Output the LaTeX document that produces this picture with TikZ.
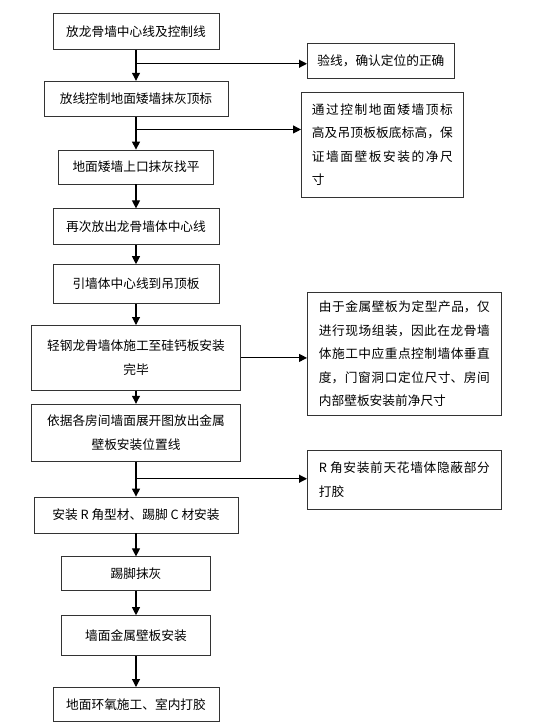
\documentclass[tikz,border=0pt]{standalone}
\usepackage{fontspec}
\newfontfamily\cjk{Noto Sans CJK SC}
\usepackage{tikz}
\usetikzlibrary{arrows.meta, positioning, calc}
\XeTeXlinebreaklocale "zh"
\XeTeXlinebreakskip=0pt plus 3pt

\begin{document}
\begin{tikzpicture}[x=1pt, y=1pt,
    stepbox/.style={rectangle, draw=black!80, line width=0.8pt, inner sep=2pt, align=center, font=\cjk\fontsize{12.7}{23.5}\selectfont},
    notebox/.style={stepbox, anchor=north west},
    flow/.style={-{Triangle[length=8pt, width=8pt]}, line width=1.1pt}]
    \useasboundingbox (0,0) rectangle (556,-726);

    % Main steps
    \node[stepbox, minimum width=166pt, minimum height=36pt, anchor=north] (s1) at (136,-13) {放龙骨墙中心线及控制线};
    \node[stepbox, minimum width=184pt, minimum height=35pt, below=31pt of s1] (s2) {放线控制地面矮墙抹灰顶标};
    \node[stepbox, minimum width=155pt, minimum height=34pt, below=33pt of s2] (s3) {地面矮墙上口抹灰找平};
    \node[stepbox, minimum width=166pt, minimum height=36pt, below=24pt of s3] (s4) {再次放出龙骨墙体中心线};
    \node[stepbox, minimum width=166pt, minimum height=39pt, below=19pt of s4] (s5) {引墙体中心线到吊顶板};
    \node[stepbox, minimum width=209pt, minimum height=65pt, below=21pt of s5] (s6) {轻钢龙骨墙体施工至硅钙板安装\\完毕};
    \node[stepbox, minimum width=209pt, minimum height=57pt, below=13pt of s6] (s7) {依据各房间墙面展开图放出金属\\壁板安装位置线};
    \node[stepbox, minimum width=204pt, minimum height=36pt, below=35pt of s7] (s8) {安装 R 角型材、踢脚 C 材安装};
    \node[stepbox, minimum width=149pt, minimum height=34pt, below=23pt of s8] (s9) {踢脚抹灰};
    \node[stepbox, minimum width=149pt, minimum height=40pt, below=24pt of s9] (s10) {墙面金属壁板安装};
    \node[stepbox, minimum width=166pt, minimum height=34pt, below=31pt of s10] (s11) {地面环氧施工、室内打胶};

    % Side notes
    \node[notebox, minimum width=147pt, minimum height=35pt] (n1) at (307,-43) {验线，确认定位的正确};
    \node[notebox, align=justify, text width=141pt, minimum width=162pt, minimum height=105pt] (n2) at (301,-92) {通过控制地面矮墙顶标\linebreak 高及吊顶板板底标高，保\linebreak 证墙面壁板安装的净尺\linebreak 寸};
    \node[notebox, align=justify, text width=171pt, minimum width=194pt, minimum height=123pt] (n3) at (307,-292) {由于金属壁板为定型产品，仅\linebreak 进行现场组装，因此在龙骨墙\linebreak 体施工中应重点控制墙体垂直\linebreak 度，门窗洞口定位尺寸、房间\linebreak 内部壁板安装前净尺寸};
    \node[notebox, align=justify, text width=171pt, minimum width=194pt, minimum height=59pt] (n4) at (307,-450) {R 角安装前天花墙体隐蔽部分\linebreak 打胶};

    % Main flow
    \foreach \a/\b in {s1/s2, s2/s3, s3/s4, s4/s5, s5/s6, s6/s7, s7/s8, s8/s9, s9/s10, s10/s11}
        \draw[flow] (\a) -- (\b);

    % Branches to the notes
    \coordinate (j1) at ($(s1.south)!0.45!(s2.north)$);
    \draw[flow] (j1) -- (j1 -| n1.west);
    \coordinate (j2) at ($(s2.south)!0.39!(s3.north)$);
    \draw[flow] (j2) -- (j2 -| n2.west);
    \draw[flow] (s6.east) -- (s6.east -| n3.west);
    \coordinate (j4) at ($(s7.south)!0.49!(s8.north)$);
    \draw[flow] (j4) -- (j4 -| n4.west);
\end{tikzpicture}
\end{document}
